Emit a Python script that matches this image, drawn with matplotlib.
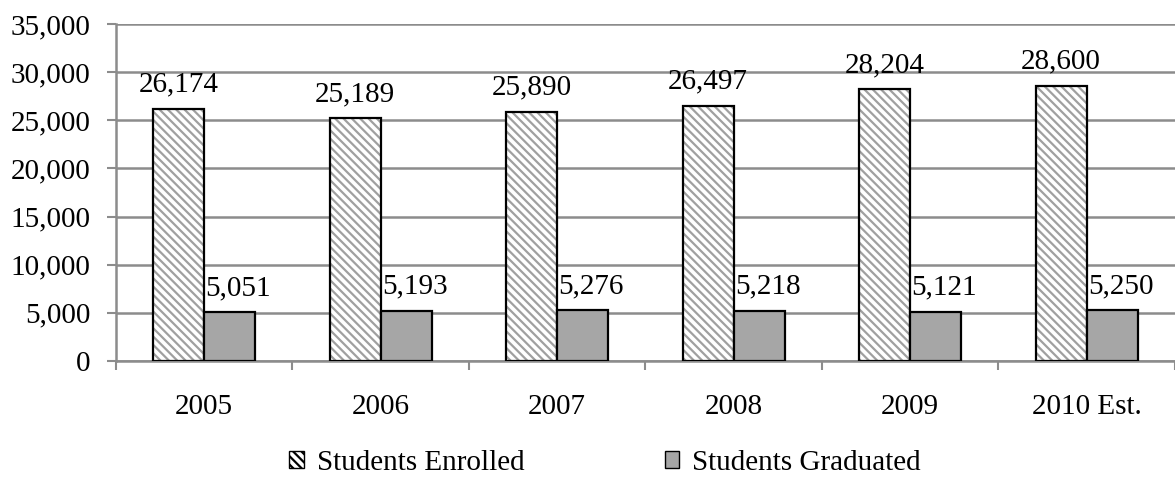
import numpy as np
import matplotlib
matplotlib.use("Agg")
import matplotlib.pyplot as plt
from matplotlib.patches import Patch

# enrolment vs graduation counts per year
years = ['2005', '2006', '2007', '2008', '2009', '2010 Est.']
enrolled = [26174, 25189, 25890, 26497, 28204, 28600]
graduated = [5051, 5193, 5276, 5218, 5121, 5250]
y_ticks = [0, 5000, 10000, 15000, 20000, 25000, 30000, 35000]

plt.rcParams['font.family'] = ['Liberation Serif', 'DejaVu Serif']
plt.rcParams['hatch.linewidth'] = 1.6
plt.rcParams['hatch.color'] = '#a0a0a0'

FS = 21
GRID = '#8c8c8c'

fig = plt.figure(figsize=(11.75, 4.78), dpi=100)
ax = fig.add_axes([0.0987, 0.2448, 0.9013, 0.7050])

x = np.arange(len(years))
w = 0.29

# hatched fill first, then a plain black outline on top
ax.bar(x - w / 2, enrolled, w, color='white', hatch='\\\\\\\\',
       edgecolor='#a0a0a0', linewidth=0, zorder=3)
ax.bar(x - w / 2, enrolled, w, fill=False, edgecolor='black',
       linewidth=1.6, zorder=4)
ax.bar(x + w / 2, graduated, w, color='#a6a6a6', edgecolor='black',
       linewidth=1.6, zorder=4)

for xi, v in zip(x, enrolled):
    ax.annotate(f'{v:,}', (xi - w / 2, v), xytext=(0, 8),
                textcoords='offset points', ha='center', va='bottom',
                fontsize=FS)
for xi, v in zip(x, graduated):
    ax.annotate(f'{v:,}', (xi + w / 2, v), xytext=(6, 8),
                textcoords='offset points', ha='center', va='bottom',
                fontsize=FS)

ax.set_xlim(-0.5, len(years) - 0.5)
ax.set_ylim(0, 35000)
ax.set_yticks(y_ticks)
ax.set_yticklabels([f'{t:,}' for t in y_ticks], fontsize=FS)
ax.yaxis.grid(True, color=GRID, linewidth=1.8, zorder=0)
ax.set_axisbelow(True)

# category labels sit between boundary ticks
ax.set_xticks(x)
ax.set_xticklabels(years, fontsize=FS)
ax.tick_params(axis='x', length=0, pad=24)
ax.set_xticks(np.arange(len(years) + 1) - 0.5, minor=True)
ax.tick_params(axis='x', which='minor', length=6.5, width=1.5,
               color=GRID, direction='out')
ax.tick_params(axis='y', length=6.5, width=1.5, color=GRID, pad=12)

for s in ['top', 'right']:
    ax.spines[s].set_visible(False)
ax.spines['left'].set_color(GRID)
ax.spines['left'].set_linewidth(1.8)
ax.spines['bottom'].set_color(GRID)
ax.spines['bottom'].set_linewidth(1.8)

handles = [Patch(facecolor='white', edgecolor='black', hatch='\\\\\\\\',
                 label='Students Enrolled'),
           Patch(facecolor='#a6a6a6', edgecolor='black',
                 label='Students Graduated')]
fig.legend(handles=handles, loc='lower center', ncol=2, frameon=False,
           fontsize=FS, bbox_to_anchor=(0.515, -0.05), columnspacing=4.8,
           handlelength=0.5, handleheight=0.5, handletextpad=0.45)

fig.savefig('out.png', dpi=100)
